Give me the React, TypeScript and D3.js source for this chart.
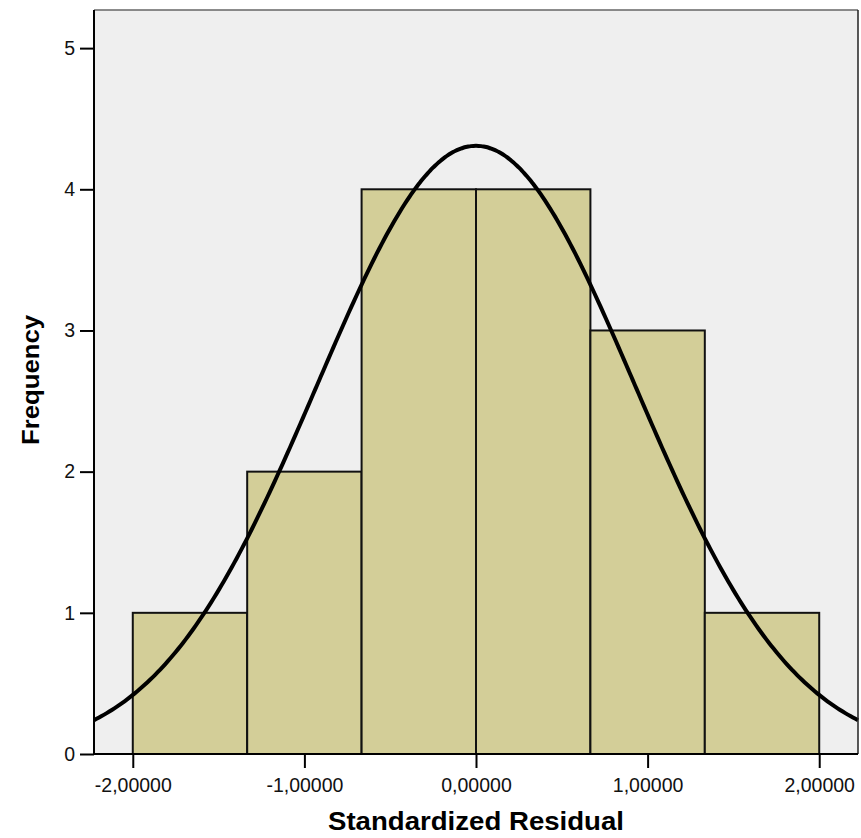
import React, { useRef, useEffect } from 'react'
import * as d3 from 'd3'

// histogram bins (Standardized Residual)
const binEdges = [-2, -1.33333, -0.66667, 0, 0.66667, 1.33333, 2]
const binCounts = [1, 2, 4, 4, 3, 1]
const xTicks = [-2, -1, 0, 1, 2]
const xTickLabels = ['-2,00000', '-1,00000', '0,00000', '1,00000', '2,00000']
const yTicks = [0, 1, 2, 3, 4, 5]

// fitted normal curve parameters
const curveMean = 0
const curveSd = 0.926
const curveN = 15

const App = () => {
    const svgRef = useRef<SVGSVGElement>(null)

    useEffect(() => {
        const svg = d3.select(svgRef.current)
        svg.selectAll('*').remove()

        const font = 'Liberation Sans, Arial, sans-serif'
        const plot = { left: 94, top: 10, right: 858, bottom: 754 }

        const x = d3.scaleLinear().domain([-2.226, 2.226]).range([plot.left, plot.right])
        const y = d3.scaleLinear().domain([0, 5.27]).range([plot.bottom, plot.top])

        // background
        svg.append('rect')
            .attr('x', plot.left).attr('y', plot.top)
            .attr('width', plot.right - plot.left).attr('height', plot.bottom - plot.top)
            .attr('fill', '#efefef')

        // bars
        const bins = binCounts.map((c, i) => ({ x0: binEdges[i], x1: binEdges[i + 1], c }))
        svg.append('g').selectAll('rect').data(bins).enter().append('rect')
            .attr('x', d => x(d.x0))
            .attr('y', d => y(d.c))
            .attr('width', d => x(d.x1) - x(d.x0))
            .attr('height', d => y(0) - y(d.c))
            .attr('fill', '#d3ce98')
            .attr('stroke', '#111')
            .attr('stroke-width', 2)

        // normal curve
        const binWidth = binEdges[1] - binEdges[0]
        const dens = (v: number) =>
            curveN * binWidth / (curveSd * Math.sqrt(2 * Math.PI)) *
            Math.exp(-0.5 * ((v - curveMean) / curveSd) ** 2)
        const xs = d3.range(0, 301).map(i => -2.226 + (4.452 * i) / 300)
        const line = d3.line<number>().x(v => x(v)).y(v => y(dens(v))).curve(d3.curveBasis)
        svg.append('path')
            .attr('d', line(xs))
            .attr('fill', 'none')
            .attr('stroke', '#000')
            .attr('stroke-width', 4)

        // frame
        svg.append('line').attr('x1', plot.left).attr('x2', plot.right)
            .attr('y1', plot.top).attr('y2', plot.top)
            .attr('stroke', '#666').attr('stroke-width', 1.5)
        svg.append('line').attr('x1', plot.right).attr('x2', plot.right)
            .attr('y1', plot.top).attr('y2', plot.bottom)
            .attr('stroke', '#222').attr('stroke-width', 1.5)

        // axes
        const yAxis = svg.append('g')
            .attr('transform', `translate(${plot.left},0)`)
            .call(d3.axisLeft(y).tickValues(yTicks).tickSize(14).tickPadding(5).tickFormat(d3.format('d')))
        const xAxis = svg.append('g')
            .attr('transform', `translate(0,${plot.bottom})`)
            .call(d3.axisBottom(x).tickValues(xTicks).tickSize(14).tickPadding(10)
                .tickFormat((d, i) => xTickLabels[i]))

        for (const ax of [xAxis, yAxis]) {
            ax.select('.domain').remove()
            ax.selectAll('line').attr('stroke', '#000').attr('stroke-width', 2)
            ax.selectAll('text')
                .attr('font-family', font)
                .attr('font-size', 19.5).attr('fill', '#111')
        }
        svg.append('line').attr('x1', plot.left).attr('x2', plot.left)
            .attr('y1', plot.top).attr('y2', plot.bottom)
            .attr('stroke', '#000').attr('stroke-width', 2)
        svg.append('line').attr('x1', plot.left).attr('x2', plot.right)
            .attr('y1', plot.bottom).attr('y2', plot.bottom)
            .attr('stroke', '#000').attr('stroke-width', 2)

        // titles
        svg.append('text')
            .attr('x', x(0)).attr('y', 830)
            .attr('text-anchor', 'middle')
            .attr('font-family', font)
            .attr('font-weight', 'bold').attr('font-size', 25)
            .attr('textLength', 296).attr('lengthAdjust', 'spacingAndGlyphs')
            .text('Standardized Residual')
        svg.append('text')
            .attr('transform', `translate(39,380) rotate(-90)`)
            .attr('text-anchor', 'middle')
            .attr('font-family', font)
            .attr('font-weight', 'bold').attr('font-size', 24)
            .attr('textLength', 130).attr('lengthAdjust', 'spacingAndGlyphs')
            .text('Frequency')
    }, [])

    return (
        <svg ref={svgRef} width={861} height={838}
            style={{ position: 'absolute', left: 0, top: 0, background: '#fff' }} />
    )
}

export default App
